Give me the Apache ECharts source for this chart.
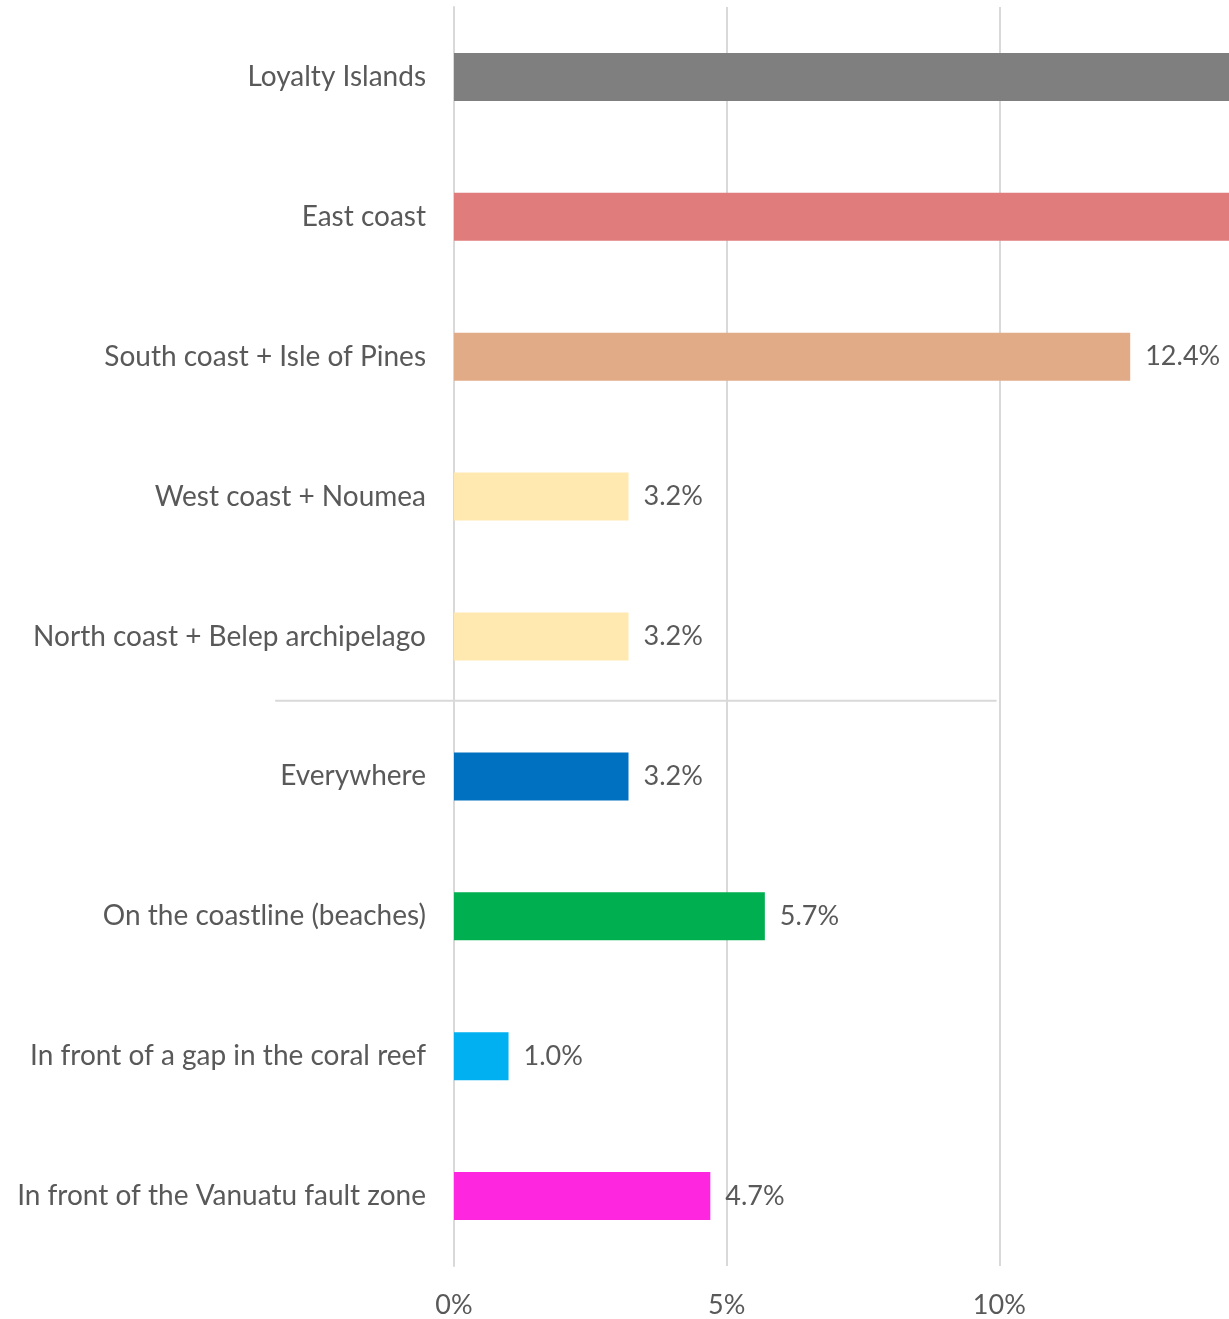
<!DOCTYPE html>
<html>
<head>
<meta charset="utf-8">
<script src="https://cdn.jsdelivr.net/npm/echarts@6/dist/echarts.min.js"></script>
<style>
html,body{margin:0;padding:0;background:#fff;overflow:hidden;width:1229px;height:1319px;}
#chart{width:1275px;height:1319px;}
</style>
</head>
<body>
<div id="chart"></div>
<script>
const categories = [
  "Loyalty Islands",
  "East coast",
  "South coast + Isle of Pines",
  "West coast + Noumea",
  "North coast + Belep archipelago",
  "Everywhere",
  "On the coastline (beaches)",
  "In front of a gap in the coral reef",
  "In front of the Vanuatu fault zone"
];
// first two bars run past the visible plot edge (values not readable, > 14.2%)
const values = [20.0, 18.0, 12.4, 3.2, 3.2, 3.2, 5.7, 1.0, 4.7];
const colors = ["#7f7f7f", "#e07c7c", "#e2ab87", "#ffe9b1", "#ffe9b1", "#0070c0", "#00b050", "#00b0f0", "#ff26e0"];
const xTicks = [0, 5, 10];
const separatorAfter = 4; // line drawn between "North coast" and "Everywhere"

const chart = echarts.init(document.getElementById('chart'));
const FONT = 'Lato';
const TXT = '#595959';

chart.setOption({
  animation: false,
  grid: { left: 454, right: 2, top: 7, bottom: 52, containLabel: false },
  xAxis: {
    type: 'value', min: 0, max: 15, interval: 5,
    axisLine: { show: false }, axisTick: { show: false },
    splitLine: { show: true, lineStyle: { color: '#d9d9d9', width: 2 } },
    axisLabel: {
      color: TXT, fontFamily: FONT, fontSize: 27, margin: 26,
      formatter: v => xTicks.includes(v) ? v + '%' : ''
    }
  },
  yAxis: {
    type: 'category', data: categories, inverse: true,
    axisLine: { show: true, lineStyle: { color: '#d9d9d9', width: 2 } },
    axisTick: { show: false },
    axisLabel: { color: TXT, fontFamily: FONT, fontSize: 28, margin: 28 }
  },
  series: [{
    type: 'bar', barWidth: 48, clip: true,
    data: values.map((v, i) => ({ value: v, itemStyle: { color: colors[i] } })),
    label: {
      show: true, position: 'right', distance: 15,
      color: TXT, fontFamily: FONT, fontSize: 27,
      formatter: p => p.value.toFixed(1) + '%'
    }
  }]
});

const yA = chart.convertToPixel({ yAxisIndex: 0 }, separatorAfter);
const yB = chart.convertToPixel({ yAxisIndex: 0 }, separatorAfter + 1);
const yPix = yA + (yB - yA) * 0.46;
const x0 = chart.convertToPixel({ xAxisIndex: 0 }, -3.28);
const x1 = chart.convertToPixel({ xAxisIndex: 0 }, 9.95);
chart.setOption({
  graphic: [{
    type: 'line', z: 10,
    shape: { x1: x0, y1: yPix, x2: x1, y2: yPix },
    style: { stroke: '#d9d9d9', lineWidth: 2 }
  }]
});
</script>
</body>
</html>
